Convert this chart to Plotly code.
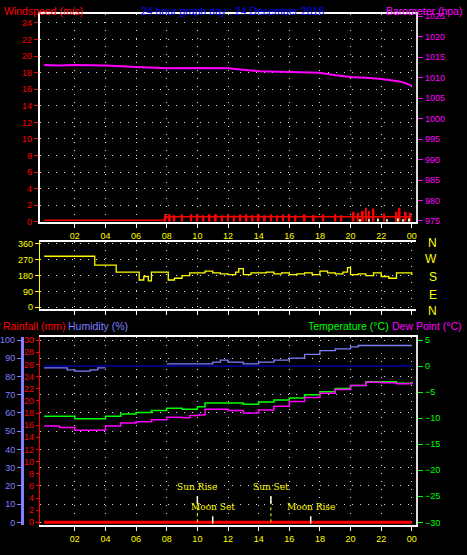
import plotly.graph_objects as go

# ---- data ----
baro_hours = [0, 1, 2, 3, 4, 6, 8, 10, 12, 14, 16, 18, 19, 20, 21, 22, 23, 23.5, 24]
baro_hpa = [1013.1, 1013.0, 1013.1, 1013.0, 1013.0, 1012.6, 1012.3, 1012.4, 1012.3, 1011.6, 1011.4, 1011.2,
            1010.6, 1010.2, 1010.0, 1009.7, 1009.2, 1008.8, 1008.0]

wind_hours = [0, 7.9, 8.0, 24]
wind_avg = [0.2, 0.2, 0.6, 0.6]
gust_hours = [7.9, 8.2, 8.5, 9.0, 9.6, 10.0, 10.4, 10.8, 11.2, 11.6, 12.0, 12.4, 12.8, 13.2, 13.6, 14.0,
              14.4, 14.8, 15.2, 15.6, 16.0, 16.4, 17.0, 17.6, 18.2, 19.0, 19.4, 20.2, 20.5, 20.8, 21.0,
              21.2, 21.5, 22.2, 23.0, 23.2, 23.6, 23.9]
gust_ms = [0.9, 0.9, 0.8, 0.9, 0.9, 0.9, 0.8, 0.9, 0.9, 0.8, 0.9, 0.8, 0.9, 0.9, 0.8, 0.9,
           0.8, 0.9, 0.8, 0.9, 0.9, 0.8, 0.9, 0.8, 0.9, 0.9, 0.8, 1.2, 1.1, 1.3, 1.7, 1.3,
           1.6, 1.0, 1.2, 1.7, 1.2, 1.1]
calm_hours = [20.6, 21.2, 21.8, 22.4, 23.1, 23.4, 23.8]
calm_ms = [0.3, 0.3, 0.4, 0.3, 0.4, 0.3, 0.4]

dir_hours = [0, 3.2, 3.3, 4.6, 4.7, 6.0, 6.2, 6.5, 6.8, 7.0, 8.0, 8.1, 8.5, 9.0, 9.5, 10.0, 10.5, 11.0,
             11.5, 12.0, 12.5, 12.7, 13.0, 13.5, 14.0, 14.5, 15.0, 15.5, 16.0, 16.5, 17.0, 17.5, 18.0,
             18.5, 19.0, 19.5, 19.8, 20.0, 20.5, 21.0, 21.5, 22.0, 22.5, 23.0, 23.5, 24.0]
dir_deg = [290, 290, 240, 240, 200, 200, 155, 175, 150, 200, 200, 155, 165, 180, 195, 195, 205, 195,
           190, 185, 200, 220, 185, 195, 195, 200, 190, 195, 185, 190, 195, 185, 205,
           195, 190, 200, 225, 185, 190, 180, 195, 175, 165, 195, 195, 185]

temp_hours = [0, 2, 4, 5, 6, 7, 8, 9, 10, 10.5, 12, 13, 14, 15, 16, 17, 18, 19, 20, 21, 22, 23, 24]
temp_c = [-9.6, -10.1, -9.6, -9.2, -8.9, -8.5, -8.1, -8.3, -7.8, -7.1, -7.1, -7.3, -6.9, -6.5, -6.1,
          -5.5, -4.9, -4.3, -3.7, -3.0, -3.0, -3.3, -3.0]
dew_hours = [0, 1, 2, 3, 4, 5, 6, 7, 8, 9, 9.5, 10, 10.5, 12, 13, 14, 15, 16, 17, 18, 19, 20, 21, 22, 23, 24]
dew_c = [-11.5, -11.8, -12.3, -12.3, -11.5, -10.9, -10.7, -10.3, -9.8, -9.9, -9.5, -9.4, -8.3, -8.5, -9.0,
         -8.4, -7.7, -6.8, -6.0, -5.2, -4.5, -3.7, -3.1, -3.2, -3.4, -3.0]
hum_hours = [0, 1.5, 2, 3, 3.5, 4, None, 8, 11, 11.5, 12, 13, 14, 15, 16, 17, 18, 19, 20, 20.5, 24]
hum_pct = [84.7, 83.6, 83, 83.6, 84.7, 84.7, None, 86.9, 87.9, 89.0, 87.9, 86.9, 87.9, 89.0, 90.1, 92.1,
           94.2, 95.2, 96.2, 97.0, 97.0]
rain_hours = [0, 24]
rain_mm = [0, 0]

hour_ticks = [2, 4, 6, 8, 10, 12, 14, 16, 18, 20, 22, 24]
hour_labels = ["02", "04", "06", "08", "10", "12", "14", "16", "18", "20", "22", "00"]
astro_events = [("Sun Rise", 10.0), ("Moon Set", 11.0), ("Sun Set", 14.8), ("Moon Rise", 17.4)]

W, H = 467, 555
FONT = "Liberation Sans"
RED, MAG, YEL, GRN, HUM = "#ff0000", "#ff00ff", "#ffff00", "#00ff00", "#7f7fff"


def px(x):
    return x / W


def py(y):
    return 1 - y / H


fig = go.Figure()
fig.add_trace(go.Bar(x=gust_hours, y=gust_ms, width=0.12, marker_color=RED, marker_line_width=0,
                     xaxis="x", yaxis="y"))
fig.add_trace(go.Bar(x=calm_hours, y=calm_ms, width=0.08, marker_color="#ccffcc", marker_line_width=0,
                     xaxis="x", yaxis="y"))
fig.add_trace(go.Scatter(x=wind_hours, y=wind_avg, mode="lines", line=dict(color=RED, width=1.5),
                         xaxis="x", yaxis="y"))
fig.add_trace(go.Scatter(x=baro_hours, y=baro_hpa, mode="lines", line=dict(color=MAG, width=2),
                         xaxis="x", yaxis="y2"))
fig.add_trace(go.Scatter(x=dir_hours, y=dir_deg, mode="lines", line=dict(color=YEL, width=1.3, shape="hv"),
                         xaxis="x2", yaxis="y3"))
fig.add_trace(go.Scatter(x=rain_hours, y=rain_mm, mode="lines", line=dict(color=RED, width=3),
                         xaxis="x3", yaxis="y4"))
fig.add_trace(go.Scatter(x=hum_hours, y=hum_pct, mode="lines", line=dict(color=HUM, width=1.3, shape="hv"),
                         connectgaps=False, xaxis="x3", yaxis="y5"))
fig.add_trace(go.Scatter(x=[0, 24], y=[0, 0], mode="lines", line=dict(color="#0000aa", width=1.5),
                         xaxis="x3", yaxis="y6"))
fig.add_trace(go.Scatter(x=temp_hours, y=temp_c, mode="lines", line=dict(color=GRN, width=1.5, shape="hv"),
                         xaxis="x3", yaxis="y6"))
fig.add_trace(go.Scatter(x=dew_hours, y=dew_c, mode="lines", line=dict(color=MAG, width=1.5, shape="hv"),
                         xaxis="x3", yaxis="y6"))

xdom = [px(40), px(417)]
grid = dict(showgrid=True, gridcolor="#dddddd", griddash="1px,7px", gridwidth=1, zeroline=False)
tickf = lambda c: dict(color=c, size=9, family=FONT)
xcommon = dict(range=[-0.28, 24.28], domain=xdom, tickvals=hour_ticks, ticktext=hour_labels,
               showline=True, linecolor="#ffffff", linewidth=2, mirror=True,
               ticks="outside", ticklen=4, tickcolor="#ffffff",
               tickfont=tickf(YEL), **grid)

fig.update_layout(
    width=W, height=H, margin=dict(l=0, r=0, t=0, b=0),
    paper_bgcolor="#000000", plot_bgcolor="#000000", showlegend=False, barmode="overlay",
    font=dict(family=FONT),
    xaxis=dict(anchor="y", **xcommon),
    xaxis2=dict(anchor="y3", showticklabels=False, **{k: v for k, v in xcommon.items() if k != "tickfont"}),
    xaxis3=dict(anchor="y4", **xcommon),
    yaxis=dict(domain=[py(222), py(11)], range=[0, 25.1], dtick=2, tickfont=tickf(RED),
               ticks="outside", ticklen=4, tickcolor=RED, showline=True, linecolor="#ffffff",
               linewidth=2, **grid),
    yaxis2=dict(overlaying="y", side="right", anchor="x", range=[974.8, 1025.6],
                tickvals=[975, 980, 985, 990, 995, 1000, 1005, 1010, 1015, 1020, 1025],
                tickfont=tickf(MAG), ticks="outside", ticklen=5, tickcolor=MAG,
                showline=True, linecolor="#dddddd", linewidth=2, showgrid=False, zeroline=False),
    yaxis3=dict(domain=[py(310), py(243)], range=[-7, 368], tickvals=[0, 90, 180, 270, 360],
                tickfont=tickf(YEL), ticks="outside", ticklen=4, tickcolor=YEL, anchor="x2",
                showline=True, linecolor=YEL, linewidth=1, **grid),
    yaxis4=dict(domain=[py(530), py(339)], range=[-0.5, 30.5], dtick=2, tickfont=tickf(RED),
                ticks="outside", ticklen=3, tickcolor=RED, anchor="x3",
                showline=True, linecolor=RED, linewidth=1, showgrid=False, zeroline=False),
    yaxis5=dict(overlaying="y4", side="left", anchor="free", position=px(22), range=[-1.6, 101.6],
                dtick=10, tickfont=tickf(HUM), ticks="outside", ticklen=4, tickcolor=HUM,
                showline=True, linecolor=HUM, linewidth=3, **grid),
    yaxis6=dict(overlaying="y4", side="right", anchor="x3", range=[-30.57, 5.57], dtick=5,
                tickfont=tickf(GRN), ticks="outside", ticklen=5, tickcolor=GRN,
                showline=True, linecolor="#dddddd", linewidth=2, showgrid=False, zeroline=False),
)

ann = [
    dict(x=px(2), y=py(0), text="Windspeed (m/s)", color=RED, xanchor="left"),
    dict(x=px(233), y=py(0), text="24 hour graph day : 24 December 2018", color="#0000ff", xanchor="center"),
    dict(x=px(465), y=py(0), text="Barometer (hpa)", color=MAG, xanchor="right"),
    dict(x=px(1), y=py(320), text="Rainfall (mm)", color=RED, xanchor="left"),
    dict(x=px(66), y=py(320), text="Humidity (%)", color=HUM, xanchor="left"),
    dict(x=px(392), y=py(320), text="Temperature (°C)", color=GRN, xanchor="right"),
    dict(x=px(465), y=py(320), text="Dew Point (°C)", color=MAG, xanchor="right"),
]
annotations = [dict(x=a["x"], y=a["y"], xref="paper", yref="paper", text=a["text"], showarrow=False,
                    xanchor=a["xanchor"], yanchor="top", font=dict(color=a["color"], size=10.5, family=FONT))
               for a in ann]
for letter, yy in zip(["N", "W", "S", "E", "N"], [244, 260, 278, 296, 312]):
    annotations.append(dict(x=px(440), y=py(yy), xref="paper", yref="paper", text=letter, showarrow=False,
                            font=dict(color=YEL, size=12, family=FONT)))

shapes = []
for name, hr in astro_events:
    upper = name.startswith("Sun")
    top = 4.3 if upper else 1.0
    if upper:
        shapes.append(dict(type="line", xref="x3", yref="y4", x0=hr, x1=hr, y0=0, y1=top,
                           line=dict(color=YEL, width=1, dash="dot")))
    shapes.append(dict(type="line", xref="x3", yref="y4", x0=hr, x1=hr, y0=top - 1.2, y1=top,
                       line=dict(color="#ffffff", width=1.5)))
    annotations.append(dict(x=hr, y=top + 0.3, xref="x3", yref="y4", text=name, showarrow=False,
                            yanchor="bottom", font=dict(color=YEL, size=9, family="DejaVu Serif")))

fig.update_layout(annotations=annotations, shapes=shapes)
fig.write_html("out.html", config={"displayModeBar": False})

# drop the browser's default page margin so the 467x555 figure fills the window
with open("out.html", encoding="utf-8") as fh:
    page = fh.read()
page = page.replace("<head>", "<head><style>html,body{margin:0;padding:0;overflow:hidden;background:#000}</style>", 1)
with open("out.html", "w", encoding="utf-8") as fh:
    fh.write(page)
